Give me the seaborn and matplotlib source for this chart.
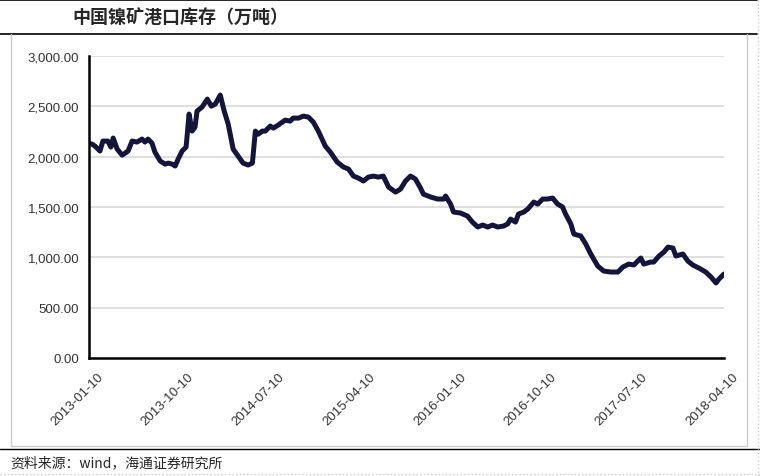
#%%     Imports
import pandas as pd
import matplotlib.pyplot as plt
import matplotlib.dates as mdates
import matplotlib.transforms as mtransforms
from matplotlib.lines import Line2D
from matplotlib.ticker import FuncFormatter
import seaborn as sns


#%%     Data

dates = [
    '2013-01-10', '2013-01-19', '2013-01-28', '2013-02-12', '2013-02-21', '2013-03-08',
    '2013-03-17', '2013-03-24', '2013-04-05', '2013-04-20', '2013-05-08', '2013-05-20',
    '2013-06-04', '2013-06-19', '2013-06-28', '2013-07-07', '2013-07-19', '2013-07-28',
    '2013-08-13', '2013-08-28', '2013-09-06', '2013-09-18', '2013-09-27', '2013-10-06',
    '2013-10-18', '2013-10-30', '2013-11-08', '2013-11-17', '2013-11-26', '2013-12-02',
    '2013-12-17', '2014-01-02', '2014-01-14', '2014-01-26', '2014-02-10', '2014-02-22',
    '2014-03-06', '2014-03-21', '2014-04-05', '2014-04-20', '2014-05-05', '2014-05-18',
    '2014-05-27', '2014-06-05', '2014-06-17', '2014-06-26', '2014-07-11', '2014-07-20',
    '2014-08-04', '2014-08-25', '2014-09-09', '2014-09-18', '2014-10-04', '2014-10-19',
    '2014-11-03', '2014-11-18', '2014-12-03', '2014-12-24', '2015-01-08', '2015-01-29',
    '2015-02-17', '2015-03-04', '2015-03-19', '2015-04-03', '2015-04-18', '2015-05-03',
    '2015-05-18', '2015-06-02', '2015-06-17', '2015-07-03', '2015-07-24', '2015-08-08',
    '2015-08-23', '2015-09-07', '2015-09-22', '2015-10-07', '2015-10-16', '2015-11-07',
    '2015-11-28', '2015-12-16', '2015-12-22', '2016-01-06', '2016-01-15', '2016-02-05',
    '2016-02-26', '2016-03-12', '2016-03-28', '2016-04-12', '2016-04-27', '2016-05-12',
    '2016-05-27', '2016-06-14', '2016-06-26', '2016-07-05', '2016-07-20', '2016-07-29',
    '2016-08-14', '2016-08-26', '2016-09-13', '2016-09-25', '2016-10-10', '2016-10-25',
    '2016-11-09', '2016-11-24', '2016-12-09', '2016-12-18', '2017-01-03', '2017-01-12',
    '2017-02-02', '2017-02-17', '2017-03-04', '2017-03-25', '2017-04-12', '2017-05-03',
    '2017-05-25', '2017-06-09', '2017-06-27', '2017-07-12', '2017-08-02', '2017-08-11',
    '2017-09-01', '2017-09-10', '2017-09-26', '2017-10-11', '2017-10-23', '2017-11-07',
    '2017-11-16', '2017-12-07', '2017-12-22', '2018-01-06', '2018-01-24', '2018-02-14',
    '2018-03-02', '2018-03-17', '2018-03-26', '2018-04-10',
]

stock = [
    2130, 2125, 2105, 2056, 2155, 2155, 2095, 2185, 2075, 2015, 2056, 2155,
    2145, 2175, 2145, 2175, 2135, 2045, 1956, 1926, 1936, 1926, 1907, 1976,
    2056, 2095, 2423, 2254, 2294, 2453, 2492, 2572, 2502, 2522, 2612, 2453,
    2324, 2075, 2006, 1936, 1917, 1936, 2254, 2224, 2254, 2254, 2304, 2284,
    2314, 2363, 2353, 2383, 2383, 2403, 2393, 2343, 2254, 2105, 2046, 1946,
    1897, 1877, 1807, 1787, 1758, 1797, 1807, 1797, 1807, 1698, 1648, 1678,
    1758, 1807, 1778, 1690, 1628, 1599, 1579, 1579, 1609, 1529, 1450, 1440,
    1410, 1350, 1301, 1321, 1301, 1321, 1301, 1311, 1331, 1380, 1350, 1430,
    1450, 1480, 1549, 1529, 1579, 1579, 1589, 1529, 1500, 1430, 1331, 1231,
    1212, 1132, 1033, 914, 864, 854, 854, 904, 933, 924, 993, 933,
    953, 953, 1013, 1053, 1102, 1092, 1013, 1033, 963, 924, 894, 854,
    804, 745, 785, 834,
]

tick_dates = ['2013-01-10', '2013-10-10', '2014-07-10', '2015-04-10',
              '2016-01-10', '2016-10-10', '2017-07-10', '2018-04-10']

title = '中国镍矿港口库存（万吨）'
source = '资料来源：wind，海通证券研究所'


#%%     Plot
sns.set_style('white')
plt.rcParams['font.family'] = ['Liberation Sans', 'Noto Sans CJK SC', 'DejaVu Sans']

data = pd.DataFrame({'date': pd.to_datetime(dates), 'stock': stock})

fig = plt.figure(figsize=(7.6, 4.77), dpi=100)
ax = fig.add_axes([0.1171, 0.2474, 0.8355, 0.6331])

sns.lineplot(data=data, x='date', y='stock', ax=ax, color='#15143a', linewidth=3.6)

ax.set_ylim(0, 3000)
ax.set_yticks(range(0, 3001, 500))
ax.yaxis.set_major_formatter(FuncFormatter(lambda v, p: f'{v:,.2f}'))
ticks = pd.to_datetime(tick_dates)
ax.set_xlim(ticks[0], ticks[-1])
ax.set_xticks(ticks)
ax.xaxis.set_major_formatter(mdates.DateFormatter('%Y-%m-%d'))
ax.set_xlabel('')
ax.set_ylabel('')

ax.grid(axis='y', color='#d9d9d9', linewidth=1.2)
ax.grid(axis='x', visible=False)
for side in ['top', 'right']:
    ax.spines[side].set_visible(False)
for side in ['left', 'bottom']:
    ax.spines[side].set_color('black')
    ax.spines[side].set_linewidth(1.8)

ax.tick_params(axis='both', which='major', direction='out', length=4, width=1.5,
               color='black', labelsize=9.5, labelcolor='#333333')
ax.tick_params(axis='y', pad=3)
ax.tick_params(axis='x', pad=5)
plt.setp(ax.get_xticklabels(), rotation=45, ha='right', rotation_mode='anchor')
# Excel puts the label end a little right of the tick
offset = mtransforms.ScaledTranslation(8 / 100, 0, fig.dpi_scale_trans)
for lbl in ax.get_xticklabels():
    lbl.set_transform(lbl.get_transform() + offset)

# header / footer frame
fig.add_artist(Line2D([0, 0.996], [0.998, 0.998], color='black', linewidth=1.2))
fig.add_artist(Line2D([0, 0.996], [0.9266, 0.9266], color='black', linewidth=1.2))
fig.add_artist(Line2D([0, 1], [0.0566, 0.0566], color='black', linewidth=1.0))
fig.add_artist(Line2D([0.0145, 0.0145], [0.0629, 0.9266], color='#cccccc', linewidth=1.0))
fig.add_artist(Line2D([0.983, 0.983], [0.0629, 0.9266], color='#cccccc', linewidth=1.0))
fig.add_artist(Line2D([0.0145, 0.983], [0.0629, 0.0629], color='#cccccc', linewidth=1.0))
fig.add_artist(Line2D([0.997, 0.997], [0, 1], color='#cccccc', linewidth=1.0, linestyle=':'))
fig.add_artist(Line2D([0, 1], [0.004, 0.004], color='#cccccc', linewidth=1.0, linestyle=':'))

fig.text(0.0947, 0.964, title, fontsize=13, fontweight='bold', va='center',
         family=['Noto Sans CJK SC', 'DejaVu Sans'])
fig.text(0.013, 0.029, source, fontsize=10, va='center',
         family=['Noto Sans CJK SC', 'DejaVu Sans'])

fig.savefig('out.png', dpi=100)
